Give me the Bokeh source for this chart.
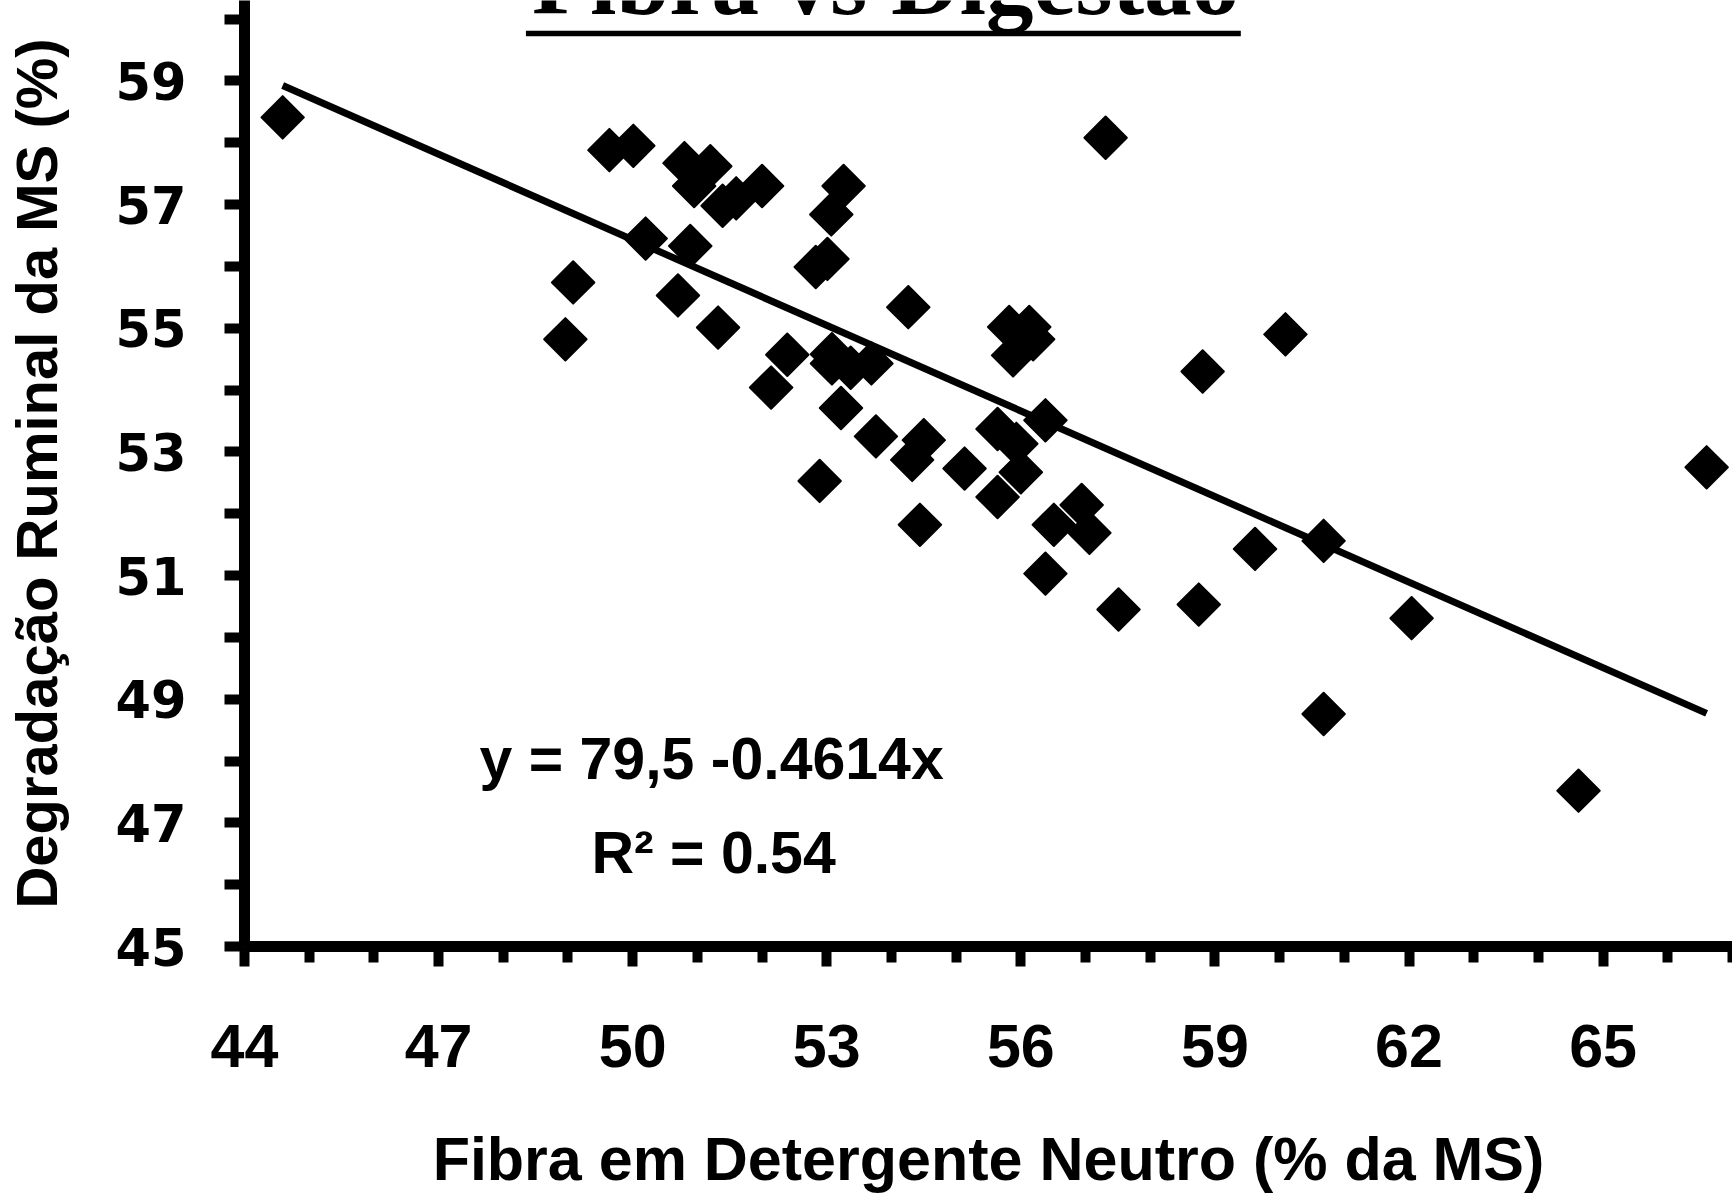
import math
from bokeh.plotting import figure
from bokeh.models import FixedTicker, Label, BoxAnnotation
from bokeh.embed import file_html
from bokeh.resources import INLINE

# ---- data ----
x_fdn = [44.59, 49.64, 50.01, 50.80, 51.20, 50.95, 51.39, 51.60, 52.00, 50.20,
         50.89, 49.08, 50.70, 48.96, 51.32, 53.26, 53.07, 53.01, 52.83, 54.26,
         52.39, 52.14, 53.08, 53.08, 53.37, 53.69, 53.22, 53.76, 54.50, 54.32,
         52.89, 54.44, 55.13, 55.64, 55.93, 56.00, 55.64, 56.38, 56.94, 56.51,
         57.06, 56.38, 57.51, 58.75, 55.82, 56.13, 56.19, 55.88, 57.31, 58.81,
         60.09, 59.62, 60.68, 60.68, 62.04, 64.62, 66.60]
y_deg = [58.41, 57.88, 57.95, 57.67, 57.62, 57.30, 56.98, 57.10, 57.30, 56.45,
         56.33, 55.74, 55.53, 54.82, 55.01, 57.30, 56.84, 56.12, 55.99, 55.34,
         54.57, 54.04, 54.58, 54.43, 54.36, 54.43, 53.71, 53.25, 53.19, 52.87,
         52.53, 51.82, 52.73, 53.37, 53.13, 52.67, 52.27, 53.51, 52.14, 51.82,
         51.69, 51.03, 50.45, 50.53, 55.02, 55.02, 54.82, 54.56, 58.08, 54.30,
         54.90, 51.43, 51.56, 48.76, 50.31, 47.52, 52.75]

intercept = 79.5
slope = -0.4614
eq_text = "y = 79,5 -0.4614x"
r2_text = "R\u00b2 = 0.54"
title_text = "Fibra vs Digest\u00e3o"
x_title = "Fibra em Detergente Neutro (% da MS)"
y_title = "Degrada\u00e7\u00e3o Ruminal da MS (%)"

x_major = [44, 47, 50, 53, 56, 59, 62, 65]
x_minor = [45, 46, 48, 49, 51, 52, 54, 55, 57, 58, 60, 61, 63, 64, 66, 67]
y_major = [45, 47, 49, 51, 53, 55, 57, 59]
y_minor = [46, 48, 50, 52, 54, 56, 58, 60]

# ---- figure ----
p = figure(width=1732, height=1195, x_range=(44, 67), y_range=(45, 60.30),
           output_backend="svg", toolbar_location=None,
           min_border_left=238, min_border_right=0, min_border_top=0,
           min_border_bottom=245)
p.outline_line_color = None
p.xgrid.grid_line_color = None
p.ygrid.grid_line_color = None
p.background_fill_color = "white"
p.border_fill_color = "white"

# trend line from the fitted equation
xs = sorted(x_fdn)
xl = [xs[0], xs[-1]]
yl = [intercept + slope * v for v in xl]
p.line(xl, yl, line_width=7, line_color="black")

p.scatter(x_fdn, y_deg, marker="square", angle=math.pi / 4, size=30,
          fill_color="black", line_color="black", line_width=2,
          line_join="round")

# axes
for ax in (p.xaxis[0], p.yaxis[0]):
    ax.axis_line_width = 11
    ax.axis_line_color = "black"
    ax.major_tick_line_width = 10
    ax.minor_tick_line_width = 10
    ax.major_tick_line_color = "black"
    ax.minor_tick_line_color = "black"
    ax.major_tick_in = 0
    ax.minor_tick_in = 0
    ax.major_label_text_color = "black"
    ax.axis_label_text_color = "black"
    ax.axis_label_text_font_style = "bold"
    ax.major_label_text_font_style = "bold"

xa = p.xaxis[0]
xa.ticker = FixedTicker(ticks=x_major, minor_ticks=x_minor)
xa.major_tick_out = 20
xa.minor_tick_out = 16
xa.major_label_text_font = "Liberation Sans"
xa.major_label_text_font_size = "61px"
xa.major_label_standoff = 58
xa.axis_label = x_title
xa.axis_label_text_font = "Liberation Sans"
xa.axis_label_text_font_size = "61px"
xa.axis_label_text_font_style = "bold"
xa.axis_label_standoff = 55

ya = p.yaxis[0]
ya.ticker = FixedTicker(ticks=y_major, minor_ticks=y_minor)
ya.major_tick_out = 20
ya.minor_tick_out = 20
ya.major_label_text_font = "DejaVu Sans"
ya.major_label_text_font_size = "51px"
ya.major_label_standoff = 38
ya.axis_label = y_title
ya.axis_label_text_font = "Liberation Sans"
ya.axis_label_text_font_size = "58px"
ya.axis_label_text_font_style = "bold"
ya.axis_label_standoff = 44

# title (cut at the top, underlined)
p.add_layout(Label(x=53.91, y=60.60, text=title_text, text_font="Liberation Serif",
                   text_font_size="95px", text_font_style="bold",
                   text_align="center", text_baseline="alphabetic",
                   text_color="black"))
p.add_layout(BoxAnnotation(left=48.35, right=59.40, bottom=59.72, top=59.81,
                           fill_color="black", fill_alpha=1.0, line_color=None))

# equation
p.add_layout(Label(x=51.22, y=48.03, text=eq_text, text_font="Liberation Sans",
                   text_font_size="59px", text_font_style="bold",
                   text_align="center", text_baseline="middle", text_color="black"))
p.add_layout(Label(x=51.25, y=46.51, text=r2_text, text_font="Liberation Sans",
                   text_font_size="59px", text_font_style="bold",
                   text_align="center", text_baseline="middle", text_color="black"))

open("out.html", "w").write(file_html(p, INLINE))
